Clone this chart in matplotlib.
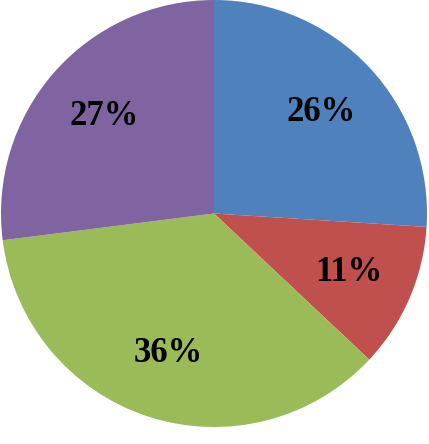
import matplotlib.pyplot as plt

labels = ["26%", "11%", "36%", "27%"]
values = [26, 11, 36, 27]
colors = ["#4F81BD", "#C0504D", "#9BBB59", "#8064A2"]

fig = plt.figure(figsize=(4.29, 4.44), dpi=100)
ax = fig.add_axes([1 / 429, 17 / 444, 426 / 429, 427 / 444])

wedges, texts, autotexts = ax.pie(
    values, colors=colors, startangle=90, counterclock=False,
    autopct=lambda p: f"{p:.0f}%", pctdistance=0.69, radius=1,
    wedgeprops={"linewidth": 0},
)
for t in autotexts:
    t.set_fontfamily("Liberation Serif")
    t.set_fontweight("bold")
    t.set_fontsize(25)
    t.set_color("black")

ax.set_xlim(-1, 1)
ax.set_ylim(-1, 1)
ax.set_aspect("auto")
ax.axis("off")

fig.savefig("out.png", dpi=100)
